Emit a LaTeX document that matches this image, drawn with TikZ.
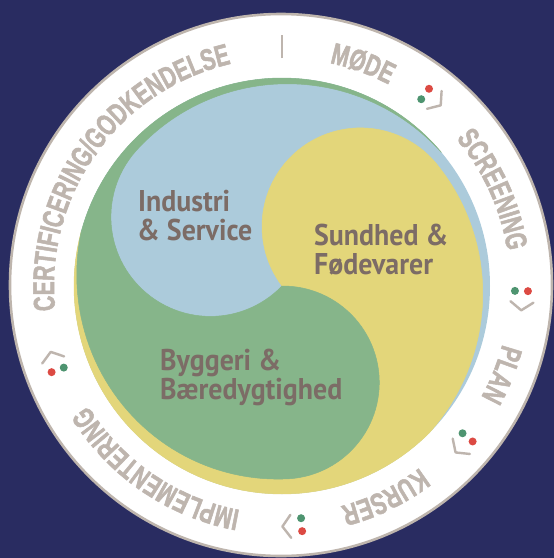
\documentclass[tikz,border=0pt]{standalone}
\usepackage{fontspec}
\setmainfont{PT Sans}
\newfontfamily\ringfont{Liberation Sans Bold}[FakeStretch=0.7, FakeBold=1.6]
\newfontfamily\labfont{PT Sans}[FakeStretch=0.93]
\usetikzlibrary{decorations.text}
\definecolor{navy}{RGB}{41,44,97}
\definecolor{ringline}{RGB}{190,181,173}
\definecolor{ringtxt}{RGB}{190,181,174}
\definecolor{cblue}{RGB}{172,203,219}
\definecolor{cyellow}{RGB}{227,214,122}
\definecolor{cgreen}{RGB}{134,181,138}
\definecolor{labtxt}{RGB}{124,108,102}
\definecolor{dotred}{RGB}{220,74,67}
\definecolor{dotgreen}{RGB}{78,148,112}
\tikzset{
  lab/.style={font=\labfont\bfseries\fontsize{30}{30}\selectfont, text=labtxt, anchor=base west, inner sep=0pt},
  ringword/.style={decorate, decoration={text along path, text align=center,
     text={|\ringfont\fontsize{30}{30}\selectfont\color{ringtxt}|#1}}},
  chev/.style={draw=ringtxt, line width=2.4pt, line cap=round, line join=round},
}
\begin{document}
\begin{tikzpicture}[x=1pt,y=-1pt,
  declare function={tk(\s,\a)=\a*(1-\s)*(1+0.5*\s);}]
\useasboundingbox (0,0) rectangle (554,558);
\fill[navy] (0,0) rectangle (554,558);
% outer ring
\fill[white, draw=ringline, line width=2.6pt] (281,285) circle (271);
% inner disk base (blue)
\fill[cblue] (282,286) circle (208);
% yellow region
\fill[cyellow, draw=cyellow, line width=0.5pt]
  plot[domain=45:195, samples=60, variable=\p] ({282+208*cos(\p)},{286+208*sin(\p)})
  -- plot[domain=195:89.5, samples=50, variable=\p] ({282+(208-tk((\p-89.5)/105.5,15))*cos(\p)},{286+(208-tk((\p-89.5)/105.5,15))*sin(\p)})
  -- plot[domain=89.5:-90.5, samples=60, variable=\q] ({282.8+96.5*cos(\q)},{382.5+96.5*sin(\q)})
  -- plot[domain=142.8:322.8, samples=60, variable=\q] ({360.5+98.5*cos(\q)},{226.4+98.5*sin(\q)})
  -- plot[domain=322.8:405, samples=50, variable=\p] ({282+(208-tk((\p-322.8)/82.2,11))*cos(\p)},{286+(208-tk((\p-322.8)/82.2,11))*sin(\p)})
  -- cycle;
% green region
\fill[cgreen, draw=cgreen, line width=0.5pt]
  plot[domain=195:320, samples=60, variable=\p] ({282+208*cos(\p)},{286+208*sin(\p)})
  -- plot[domain=320:224, samples=50, variable=\p] ({282+(208-tk((\p-224)/96,9))*cos(\p)},{286+(208-tk((\p-224)/96,9))*sin(\p)})
  -- plot[domain=224:44, samples=60, variable=\q] ({210.4+99.5*cos(\q)},{216.9+99.5*sin(\q)})
  -- plot[domain=269.5:449.5, samples=60, variable=\q] ({282.8+96.5*cos(\q)},{382.5+96.5*sin(\q)})
  -- plot[domain=89.5:195, samples=50, variable=\p] ({282+(208-tk((\p-89.5)/105.5,15))*cos(\p)},{286+(208-tk((\p-89.5)/105.5,15))*sin(\p)})
  -- cycle;
% labels
\node[lab] (ind1) at (138,211) {Industri};
\node[lab] (ind2) at (137,240) {\& Service};
\node[lab] (sun1) at (314,245) {Sundhed \&};
\node[lab] (sun2) at (314,274) {Fødevarer};
\node[lab] (byg1) at (160,370) {Byggeri \&};
\node[lab] (byg2) at (160,399) {Bæredygtighed};
% ring texts
\begin{scope}[shift={(282,286)}]
  \path[ringword={MØDE}] plot[domain=250:330, samples=80, variable=\p] ({228*cos(\p)},{228*sin(\p)});
  \path[ringword={SCREENING}] plot[domain=295:376, samples=80, variable=\p] ({228*cos(\p)},{228*sin(\p)});
  \path[ringword={PLAN}] plot[domain=-18:62, samples=80, variable=\p] ({228*cos(\p)},{228*sin(\p)});
  \path[ringword={KURSER}] plot[domain=24:104, samples=80, variable=\p] ({228*cos(\p)},{228*sin(\p)});
  \path[ringword={IMPLEMENTERING}] plot[domain=74:175, samples=100, variable=\p] ({228*cos(\p)},{228*sin(\p)});
  \path[ringword={CERTIFICERING/GODKENDELSE}] plot[domain=155:276, samples=120, variable=\p] ({228*cos(\p)},{228*sin(\p)});
  % top separator bar
  \draw[chev, line width=2.8pt, line cap=butt] (270:228) -- (270:251);
  % smiley separators
  \foreach \a in {306.7,1.2,39.2,85.3,159.5}{
    \fill[dotred] ({\a}:246) circle (4);
    \fill[dotgreen] ({\a}:233) circle (4);
    \draw[chev] ({\a+2.6}:229) -- ({\a+4.6}:240.5) -- ({\a+2.6}:252);
  }
\end{scope}
\end{tikzpicture}
\end{document}
